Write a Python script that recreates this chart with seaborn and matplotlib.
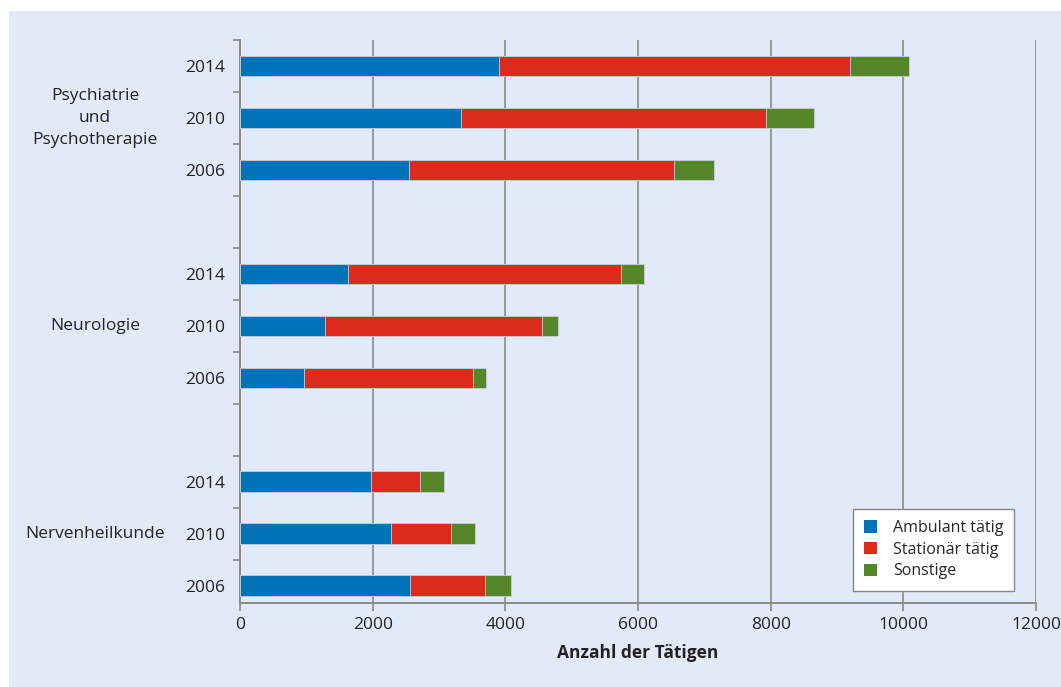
import matplotlib
matplotlib.use("Agg")
import numpy as np
import pandas as pd
import matplotlib.pyplot as plt
import seaborn as sns
from matplotlib.patches import Patch, Rectangle

# data (number of practitioners)
groups = ["Psychiatrie\nund\nPsychotherapie", "Neurologie", "Nervenheilkunde"]
years = ["2014", "2010", "2006"]
ambulant = [3900, 3330, 2550, 1630, 1280, 965, 1975, 2280, 2570]
stationaer = [5290, 4600, 4000, 4120, 3270, 2550, 740, 905, 1130]
sonstige = [890, 720, 590, 340, 250, 190, 355, 365, 390]
series_names = ["Ambulant tätig", "Stationär tätig", "Sonstige"]
colors = ["#0073b8", "#dc2b1c", "#56862a"]
bg = "#e2e9f8"

sns.set_style("white")
plt.rcParams['font.family'] = ['Open Sans', 'DejaVu Sans']

# 3 bars per group + one empty slot between groups
pos = [g * 4 + i for g in range(len(groups)) for i in range(len(years))]
df = pd.DataFrame({
    "pos": pos,
    "year": years * len(groups),
    "ambulant": ambulant,
    "stationaer": stationaer,
    "sonstige": sonstige,
})
df["c1"] = df["ambulant"]
df["c2"] = df["c1"] + df["stationaer"]
df["c3"] = df["c2"] + df["sonstige"]

fig = plt.figure(figsize=(10.61, 6.87), dpi=100)
fig.patches.append(Rectangle((9 / 1061, 0), 1, 1 - 11 / 687, transform=fig.transFigure,
                             facecolor=bg, edgecolor="none", zorder=-10))
ax = fig.add_axes([240 / 1061, 1 - 603 / 687, 796 / 1061, 563 / 687])
ax.set_facecolor(bg)

# stacked: draw totals first, then overlay the shorter cumulative bars
for col, c in zip(["c3", "c2", "c1"], colors[::-1]):
    sns.barplot(data=df, x=col, y="pos", orient="h", native_scale=True,
                color=c, width=0.4, edgecolor="#c8cfdc", linewidth=0.6,
                saturation=1, ax=ax, zorder=3)

ax.set_xlim(0, 12000)
ax.set_ylim(10.33, -0.5)
ax.set_xticks(np.arange(0, 12001, 2000))
ax.set_xticklabels([str(v) for v in range(0, 12001, 2000)], fontsize=12.5, color="#222222")
ax.set_yticks(pos)
ax.set_yticklabels(df["year"], fontsize=12.5, color="#222222")
ax.set_yticks(np.arange(-0.5, 10, 1), minor=True)
ax.tick_params(axis="y", which="major", left=False, length=0, pad=11)
ax.tick_params(axis="y", which="minor", left=True, length=5, color="#888888", width=1.2)
ax.tick_params(axis="x", which="major", bottom=True, length=6, color="#888888", width=1.2, pad=4)
ax.xaxis.grid(True, color="#8a8a8a", linewidth=1.2, zorder=0)
ax.set_axisbelow(True)
for s in ["top", "right"]:
    ax.spines[s].set_visible(False)
for s in ["left", "bottom"]:
    ax.spines[s].set_color("#8a8a8a")
    ax.spines[s].set_linewidth(1.4)

ax.set_xlabel("Anzahl der Tätigen", fontsize=12.5, fontweight="bold", labelpad=8, color="#222222")
ax.set_ylabel("")

# group labels left of the year labels
tr = ax.get_yaxis_transform()
for g, name in enumerate(groups):
    ax.text(-0.182, g * 4 + 1, name, transform=tr, ha="center", va="center",
            fontsize=12.5, color="#222222", linespacing=1.5)

handles = [Patch(facecolor=c, edgecolor="none") for c in colors]
leg = ax.legend(handles, series_names, loc="lower right", bbox_to_anchor=(0.983, 0.008),
                fontsize=11.5, frameon=True, fancybox=False, handlelength=0.8,
                handleheight=0.8, borderpad=0.7, labelspacing=0.35, handletextpad=1.0)
leg.get_frame().set_edgecolor("#888888")
leg.get_frame().set_facecolor("white")
leg.get_frame().set_alpha(1)

fig.savefig("out.png", dpi=100, facecolor="white")
